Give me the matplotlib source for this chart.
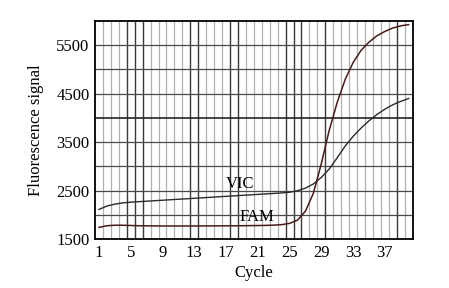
import numpy as np
import matplotlib.pyplot as plt

plt.rcParams['font.family'] = ['Liberation Serif', 'DejaVu Serif']

# Datos (ciclo, señal)
cycles = np.arange(1, 41)
fam = [1746, 1780, 1790, 1790, 1785, 1780, 1778, 1776, 1775, 1775,
       1775, 1775, 1775, 1776, 1776, 1777, 1778, 1779, 1780, 1782,
       1784, 1787, 1792, 1802, 1828, 1895, 2080, 2450, 3060, 3750,
       4320, 4790, 5140, 5390, 5560, 5690, 5780, 5850, 5895, 5920]
vic = [2116, 2185, 2225, 2250, 2265, 2275, 2285, 2295, 2305, 2315,
       2325, 2335, 2345, 2355, 2365, 2375, 2385, 2395, 2405, 2415,
       2425, 2435, 2445, 2455, 2470, 2500, 2555, 2640, 2775, 2950,
       3180, 3420, 3620, 3790, 3940, 4070, 4180, 4270, 4340, 4400]
x_ticks = list(range(1, 40, 4))
y_ticks = [1500, 2500, 3500, 4500, 5500]

fig = plt.figure(figsize=(4.49, 2.88), dpi=100)
ax = fig.add_axes([0.2116, 0.169, 0.7075, 0.759])

# rejilla
dark_v = [4.5, 5.5, 6.5, 12.5, 13.5, 17.5, 18.5, 24.5, 25.5, 26.5, 29.5, 38.5]
for xv in np.arange(1.5, 40.5, 1.0):
    if xv in dark_v:
        ax.axvline(xv, color='#3a3a3a', lw=1.0, zorder=1)
    else:
        ax.axvline(xv, color='#b0b0b0', lw=0.9, zorder=1)
for yv in range(2000, 6000, 500):
    if yv == 4000:
        ax.axhline(yv, color='#222222', lw=1.2, zorder=1)
    else:
        ax.axhline(yv, color='#4a4a4a', lw=0.9, zorder=1)

ax.plot(cycles, vic, color='#2a2a2a', lw=1.0, zorder=3)
ax.plot(cycles, fam, color='#4a1a1a', lw=1.1, zorder=3)

ax.text(18.8, 2640, 'VIC', fontsize=12, ha='center', va='center', zorder=4)
ax.text(20.9, 1968, 'FAM', fontsize=12, ha='center', va='center', zorder=4)

ax.set_xlim(0.5, 40.5)
ax.set_ylim(1500, 6000)
ax.set_xticks(x_ticks)
ax.set_yticks(y_ticks)
ax.tick_params(length=0, labelsize=12, pad=4)
ax.set_xlabel('Cycle', fontsize=12, labelpad=3)
ax.set_ylabel('Fluorescence signal', fontsize=12, labelpad=9)
for s in ax.spines.values():
    s.set_linewidth(1.3)
    s.set_color('black')

fig.savefig('out.png', dpi=100)
